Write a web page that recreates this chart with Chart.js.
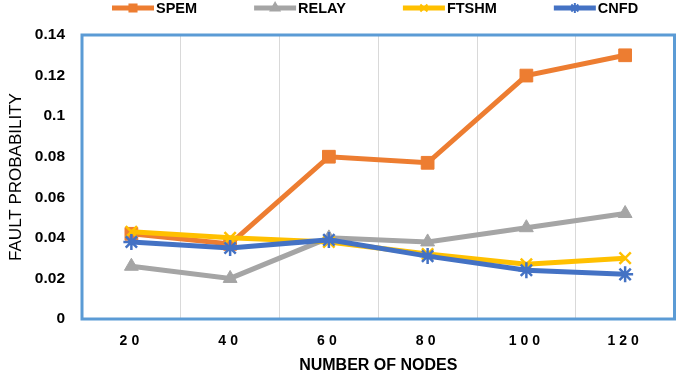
<!DOCTYPE html>
<html>
<head>
<meta charset="utf-8">
<script src="https://cdn.jsdelivr.net/npm/chart.js@4.4.1/dist/chart.umd.min.js"></script>
<style>
html,body{margin:0;padding:0;background:#fff;}
#wrap{width:685px;height:376px;position:relative;}
</style>
</head>
<body>
<div id="wrap"><canvas id="c" width="685" height="376"></canvas></div>
<script>
const categories = ['20', '40', '60', '80', '100', '120'];
const spem  = [0.042, 0.037, 0.080, 0.077, 0.120, 0.130];
const relay = [0.026, 0.020, 0.040, 0.038, 0.045, 0.052];
const ftshm = [0.043, 0.040, 0.038, 0.032, 0.027, 0.030];
const cnfd  = [0.038, 0.035, 0.039, 0.031, 0.024, 0.022];
const seriesNames = ['SPEM', 'RELAY', 'FTSHM', 'CNFD'];
const yTicks = [0, 0.02, 0.04, 0.06, 0.08, 0.1, 0.12, 0.14];

const FONT = '"Liberation Sans", Arial, sans-serif';

const framePlugin = {
  id: 'frame',
  beforeDraw(chart) {
    const s = chart.scales.x;
    if (!s._lsWrapped) {
      const orig = s.drawLabels.bind(s);
      s.drawLabels = function (ca) {
        chart.ctx.save();
        chart.ctx.letterSpacing = '4px';
        orig(ca);
        chart.ctx.restore();
      };
      s._lsWrapped = true;
    }
  },
  beforeDatasetsDraw(chart) {
    const {ctx, chartArea: a} = chart;
    ctx.save();
    ctx.strokeStyle = '#5B9BD5';
    ctx.lineWidth = 3;
    ctx.strokeRect(a.left, a.top, a.right - a.left, a.bottom - a.top);
    ctx.restore();
  },
  afterDraw(chart) {
    const ctx = chart.ctx;
    ctx.save();
    ctx.font = 'bold 14.5px ' + FONT;
    ctx.textBaseline = 'middle';
    let x = 112;
    const y = 8;
    chart.data.datasets.forEach(ds => {
      ctx.strokeStyle = ds.borderColor;
      ctx.fillStyle = ds.borderColor;
      ctx.lineWidth = 5;
      ctx.beginPath();
      ctx.moveTo(x, y);
      ctx.lineTo(x + 42, y);
      ctx.stroke();
      ctx.lineWidth = 2;
      Chart.helpers.drawPoint(ctx, {pointStyle: ds.pointStyle, radius: 5, borderWidth: 2, rotation: 0}, x + 21, y);
      ctx.fillStyle = '#000';
      ctx.fillText(ds.label, x + 44, y + 1);
      const w = ctx.measureText(ds.label).width;
      x += 44 + w + 57;
    });
    ctx.restore();
  }
};

function mk(label, data, color, style, radius, bw, order) {
  return {
    label, data,
    borderColor: color, backgroundColor: color,
    pointBackgroundColor: color, pointBorderColor: color,
    borderWidth: 5, pointStyle: style, pointRadius: radius, pointHoverRadius: radius,
    pointBorderWidth: bw, tension: 0, order, fill: false
  };
}

new Chart(document.getElementById('c'), {
  type: 'line',
  data: {
    labels: categories,
    datasets: [
      mk(seriesNames[0], spem,  '#ED7D31', 'rect', 9, 1, 4),
      mk(seriesNames[1], relay, '#A5A5A5', 'triangle', 8, 1, 3),
      mk(seriesNames[2], ftshm, '#FFC000', 'crossRot', 8, 2.5, 2),
      mk(seriesNames[3], cnfd,  '#4472C4', 'star', 8, 2.5, 1)
    ]
  },
  options: {
    responsive: false,
    animation: false,
    devicePixelRatio: 1,
    layout: {padding: {top: 35, right: 4, left: 0, bottom: 0}},
    plugins: {legend: {display: false}, tooltip: {enabled: false}},
    scales: {
      x: {
        offset: true,
        grid: {display: true, color: '#D9D9D9', lineWidth: 1, drawTicks: false, offset: true},
        border: {display: false},
        ticks: {color: '#000', padding: 14, font: {family: FONT, size: 14, weight: 'bold'}, maxRotation: 0, autoSkip: false},
        title: {display: true, text: 'NUMBER OF NODES', color: '#000', font: {family: FONT, size: 16, weight: 'bold'}, padding: {top: 0, bottom: 1}},
        afterFit(s) { s.height = 57; }
      },
      y: {
        min: 0, max: 0.14,
        afterBuildTicks(s) { s.ticks = yTicks.map(v => ({value: v})); },
        grid: {display: false, drawTicks: false},
        border: {display: false},
        ticks: {color: '#000', padding: 17, font: {family: FONT, size: 15.5, weight: 'bold'},
          callback: v => String(Number(v.toFixed(2)))},
        title: {display: true, text: 'FAULT PROBABILITY', color: '#000', font: {family: FONT, size: 17, weight: 'normal'}, padding: {top: 6, bottom: 0}},
        afterFit(s) { s.width = 82; }
      }
    }
  },
  plugins: [framePlugin]
});
</script>
</body>
</html>
